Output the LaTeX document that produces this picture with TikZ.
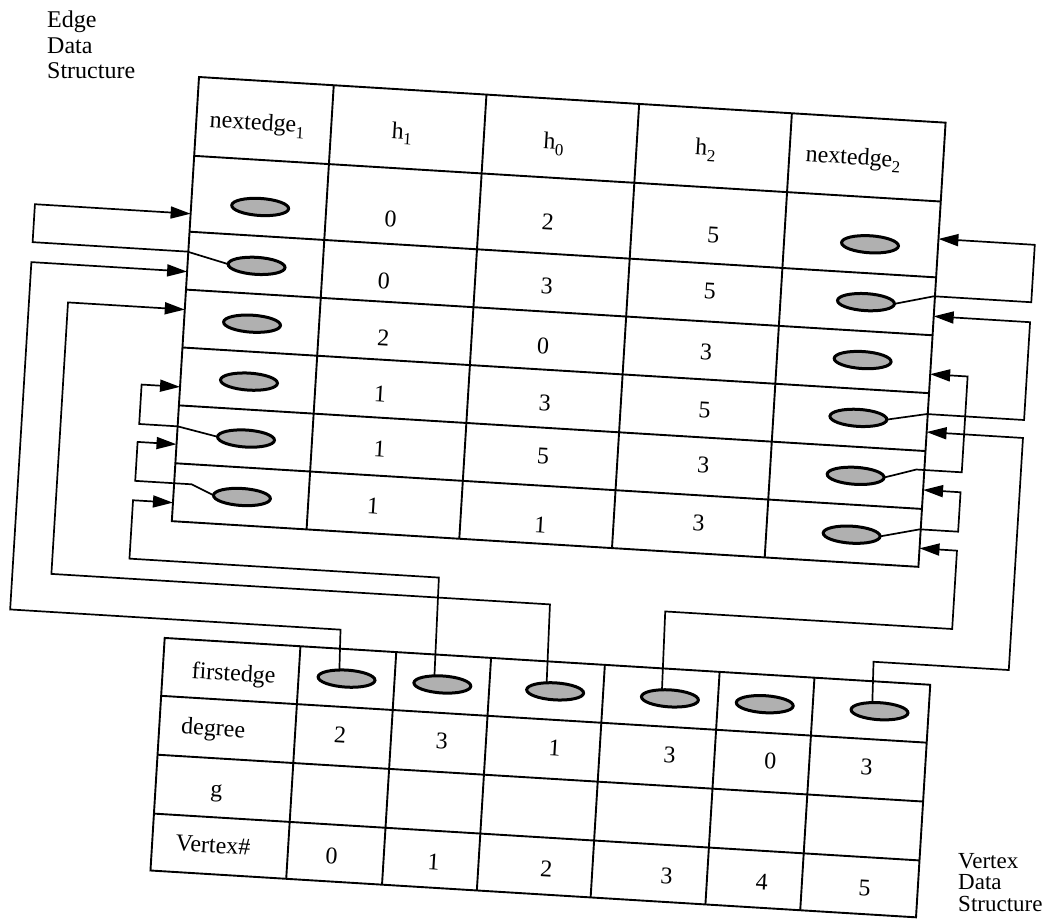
\documentclass[tikz,border=0pt]{standalone}
\usepackage{fontspec}
\setmainfont{Liberation Serif}
\usetikzlibrary{shapes.geometric,arrows.meta}
\newcommand{\sbs}[1]{\raisebox{-6pt}{\fontsize{17}{17}\selectfont #1}}
\begin{document}
\begin{tikzpicture}[x=1pt,y=-1pt,
  grid/.style={line width=1.9pt},
  conn/.style={line width=1.7pt},
  arr/.style={conn,-{Triangle[length=20pt,width=12pt]}},
  ptr/.style={ellipse,draw,line width=3pt,fill=gray!62,minimum width=57pt,minimum height=17pt,inner sep=0pt,outer sep=0pt,transform shape},
  txt/.style={inner sep=0pt,font=\fontsize{24}{26}\selectfont,transform shape},
  lbl/.style={inner sep=0pt,align=left,anchor=north west},
]
\useasboundingbox (0,0) rectangle (1054,919);

\node[lbl,font=\fontsize{24}{25.5}\selectfont] (edgelbl) at (47,11) {Edge\\Data\\Structure};
\node[lbl,font=\fontsize{23}{21.5}\selectfont] (vertlbl) at (958,853) {Vertex\\Data\\Structure};

\begin{scope}[shift={(199,77)},rotate=-3.5]
  % edge table
  \draw[grid] (0,0) rectangle (748,445);
  \foreach \u in {135,288,441,594} \draw[grid] (\u,0) -- (\u,445);
  \foreach \v in {79,155,213,271,329,387} \draw[grid] (0,\v) -- (748,\v);
  % vertex table
  \draw[grid] (0,562) rectangle (767,795);
  \foreach \u in {136,232,327,441,556,651} \draw[grid] (\u,562) -- (\u,795);
  \foreach \v in {620,679,738} \draw[grid] (0,\v) -- (767,\v);

  % headers
  \node[txt] (hne1) at (61,44) {nextedge\sbs{1}};
  \node[txt] (hh1) at (206,44) {h\sbs{1}};
  \node[txt] (hh0) at (358,45) {h\sbs{0}};
  \node[txt] (hh2) at (510,42) {h\sbs{2}};
  \node[txt] (hne2) at (658,42) {nextedge\sbs{2}};

  % edge values
  \node[txt] (v11) at (200,130) {0}; \node[txt] (v12) at (357,123) {2}; \node[txt] (v13) at (523,126) {5};
  \node[txt] (v21) at (197,192) {0}; \node[txt] (v22) at (360,187) {3}; \node[txt] (v23) at (523,183) {5};
  \node[txt] (v31) at (200,249) {2}; \node[txt] (v32) at (360,247.5) {0}; \node[txt] (v33) at (523,243.5) {3};
  \node[txt] (v41) at (200,305) {1}; \node[txt] (v42) at (365,304) {3}; \node[txt] (v43) at (525,301.5) {5};
  \node[txt] (v51) at (203,360) {1}; \node[txt] (v52) at (366.5,357) {5}; \node[txt] (v53) at (527,356.5) {3};
  \node[txt] (v61) at (200,417.5) {1}; \node[txt] (v62) at (368,426) {1}; \node[txt] (v63) at (526,414.7) {3};

  % pointer ellipses, nextedge1 / nextedge2
  \node[ptr] (a1) at (69,126) {};
  \node[ptr] (a2) at (69,185) {};
  \node[ptr] (a3) at (68,243) {};
  \node[ptr] (a4) at (68.5,301) {};
  \node[ptr] (a5) at (69,358) {};
  \node[ptr] (a6) at (68.5,416.6) {};
  \node[ptr] (b1) at (680,126) {};
  \node[ptr] (b2) at (679.5,184) {};
  \node[ptr] (b3) at (679.7,242) {};
  \node[ptr] (b4) at (679,300) {};
  \node[ptr] (b5) at (679.8,358) {};
  \node[ptr] (b6) at (679.4,417) {};

  % vertex table texts
  \node[txt] (rfe) at (71,595) {firstedge};
  \node[txt] (rdg) at (54,651) {degree};
  \node[txt] (rg) at (61,714) {g};
  \node[txt] (rvn) at (61,766) {Vertex\#};
  \node[ptr] (f0) at (184,591.5) {};
  \node[ptr] (f1) at (280,591.5) {};
  \node[ptr] (f2) at (393,591.5) {};
  \node[ptr] (f3) at (508,591.5) {};
  \node[ptr] (f4) at (603,591.5) {};
  \node[ptr] (f5) at (718,591.5) {};
  \node[txt] (d0) at (181,648) {2};
  \node[txt] (d1) at (283,648) {3};
  \node[txt] (d2) at (396,648) {1};
  \node[txt] (d3) at (511,648) {3};
  \node[txt] (d4) at (612,648) {0};
  \node[txt] (d5) at (708.5,648) {3};
  \node[txt] (n0) at (180,769) {0};
  \node[txt] (n1) at (282,769) {1};
  \node[txt] (n2) at (395,769) {2};
  \node[txt] (n3) at (515.5,769) {3};
  \node[txt] (n4) at (611,769) {4};
  \node[txt] (n5) at (714,769) {5};

  % arrow targets on the table edges
  \coordinate (L1) at (0,137);
  \coordinate (L2) at (0,195);
  \coordinate (L3) at (0,233);
  \coordinate (L4) at (0,310.5);
  \coordinate (L5) at (0,368);
  \coordinate (L6) at (0,426.5);
  \coordinate (R1) at (748,116.5);
  \coordinate (R2) at (748,194);
  \coordinate (R3) at (748,252);
  \coordinate (R4) at (748,310);
  \coordinate (R5) at (748,368);
  \coordinate (R6) at (748,426.5);

  % left connectors
  \draw[arr] (a2.west) -- (-1,175) -- (-156,175) -- (-156,137) -- (L1);
  \draw[arr] (f0.133.3) -- (175,543) -- (-156,543) -- (-156,195) -- (L2);
  \draw[arr] (f2.138.3) -- (382.5,505) -- (-117,505) -- (-117,233) -- (L3);
  \draw[arr] (a5.west) -- (0,350) -- (-38.5,350) -- (-38.5,310.5) -- (L4);
  \draw[arr] (a6.west) -- (17.5,407) -- (-39,407) -- (-39,368) -- (L5);
  \draw[arr] (f1.136.7) -- (270,485) -- (-40,485) -- (-40,426.5) -- (L6);
  % right connectors
  \draw[arr] (b2.east) -- (747,174) -- (844.5,174) -- (844.5,116.5) -- (R1);
  \draw[arr] (b4.east) -- (747,292) -- (844.5,292) -- (844.5,194) -- (R2);
  \draw[arr] (b5.east) -- (740,348) -- (785.5,348) -- (785.5,252) -- (R3);
  \draw[arr] (f5.133.3) -- (709,542.5) -- (844.5,542.5) -- (844.5,310) -- (R4);
  \draw[arr] (b6.east) -- (747,407.5) -- (785.5,407.5) -- (785.5,368) -- (R5);
  \draw[arr] (f3.136.7) -- (498,505) -- (785.5,505) -- (785.5,426.5) -- (R6);
\end{scope}
\end{tikzpicture}
\end{document}
